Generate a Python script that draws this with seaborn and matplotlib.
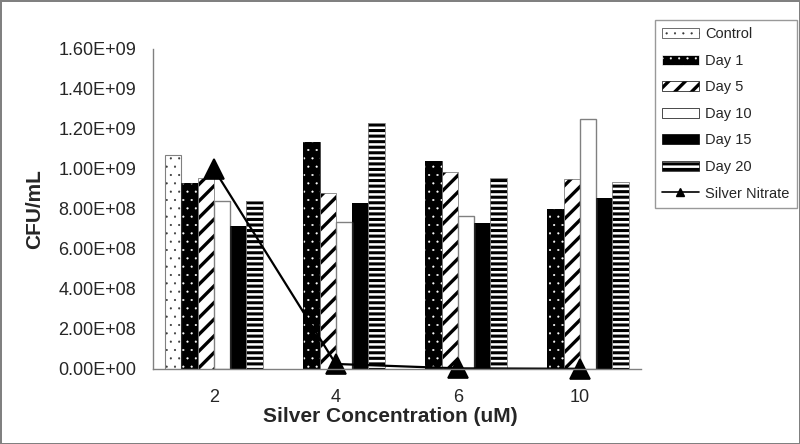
import matplotlib
matplotlib.use("Agg")
import matplotlib.pyplot as plt
import seaborn as sns
import pandas as pd
from matplotlib.patches import Patch
from matplotlib.lines import Line2D

# data
concentrations = ['2', '4', '6', '10']
series_names = ['Control', 'Day 1', 'Day 5', 'Day 10', 'Day 15', 'Day 20']
control = [1.07e9, 0, 0, 0]
day1 = [0.93e9, 1.135e9, 1.04e9, 0.80e9]
day5 = [0.955e9, 0.88e9, 0.985e9, 0.95e9]
day10 = [0.84e9, 0.735e9, 0.765e9, 1.25e9]
day15 = [0.715e9, 0.83e9, 0.73e9, 0.855e9]
day20 = [0.84e9, 1.23e9, 0.955e9, 0.935e9]
silver_nitrate = [1.0e9, 2.5e7, 3e6, 1e6]
y_ticks = [0, 2e8, 4e8, 6e8, 8e8, 1e9, 1.2e9, 1.4e9, 1.6e9]

sns.set_style('white')
plt.rcParams['font.family'] = ['Liberation Sans', 'DejaVu Sans']
plt.rcParams['hatch.linewidth'] = 2.4

rows = []
for name, vals in zip(series_names, [control, day1, day5, day10, day15, day20]):
    for c, v in zip(concentrations, vals):
        rows.append({'conc': c, 'series': name, 'cfu': v})
df = pd.DataFrame(rows)
df_line = pd.DataFrame({'conc': concentrations, 'silver': silver_nitrate})

fig = plt.figure(figsize=(8, 4.44), dpi=100)
fig.patch.set_edgecolor('#808080')
fig.patch.set_linewidth(2)
ax = fig.add_axes([0.191, 0.169, 0.61, 0.721])

sns.barplot(data=df, x='conc', y='cfu', hue='series', order=concentrations,
            hue_order=series_names, width=0.8, errorbar=None, legend=False, ax=ax)

# facecolor, hatch colour, hatch, hatch width, edge colour, edge width
styles = {
    'Control': ('white', '#333333', '..', 0.3, '#808080', 0.8),
    'Day 1': ('black', 'white', '..', 0.3, 'black', 0.5),
    'Day 5': ('white', 'black', '//', 2.4, '#808080', 0.6),
    'Day 10': ('white', 'black', '', 1.0, '#808080', 1.0),
    'Day 15': ('black', 'black', '', 1.0, 'black', 0.5),
    'Day 20': ('white', 'black', '---', 2.2, '#808080', 0.6),
}


def style_patch(p, name):
    fc, hc, h, hlw, ec, lw = styles[name]
    p.set_facecolor(fc)
    p.set_edgecolor(hc)  # sets the hatch colour
    p.set_hatch(h)
    if hasattr(p, 'set_hatch_linewidth'):
        p.set_hatch_linewidth(hlw)
    p.set_linewidth(0)


for cont, name in zip(ax.containers, series_names):
    for bar in cont:
        style_patch(bar, name)
        # thin outline drawn on top
        fc, hc, h, hlw, ec, lw = styles[name]
        if bar.get_height() > 0:
            ax.add_patch(plt.Rectangle(bar.get_xy(), bar.get_width(), bar.get_height(),
                                       fill=False, edgecolor=ec, linewidth=lw, zorder=bar.get_zorder()))

sns.pointplot(data=df_line, x='conc', y='silver', order=concentrations,
              color='black', markers='^', markersize=15, linewidth=1.6,
              errorbar=None, clip_on=False, ax=ax)

ax.set_ylim(0, 1.6e9)
ax.set_xlim(-0.5, 3.5)
ax.set_yticks(y_ticks)
ax.set_yticklabels([f'{v:.2E}' for v in y_ticks])
ax.tick_params(axis='both', length=0, labelsize=13)
ax.tick_params(axis='y', pad=12)
ax.tick_params(axis='x', pad=14.5)
for s in ['top', 'right']:
    ax.spines[s].set_visible(False)
for s in ['left', 'bottom']:
    ax.spines[s].set_color('#808080')
    ax.spines[s].set_linewidth(1)

ax.set_xlabel('Silver Concentration (uM)', fontsize=15, fontweight='bold', labelpad=0)
ax.xaxis.set_label_coords(0.487, -0.118)
ax.set_ylabel('CFU/mL', fontsize=15, fontweight='bold', labelpad=10)

handles = []
for name in series_names:
    p = Patch(label=name)
    style_patch(p, name)
    handles.append(p)
handles.append(Line2D([], [], color='black', marker='^', markersize=6,
                      linewidth=1.2, label='Silver Nitrate'))
leg = fig.legend(handles=handles, loc='upper right', bbox_to_anchor=(0.996, 0.955),
                 fontsize=10.5, frameon=True, fancybox=False, handlelength=2.5,
                 handleheight=0.7, labelspacing=0.86, borderpad=0.5,
                 handletextpad=0.45, borderaxespad=0)
leg.get_frame().set_edgecolor('#808080')
leg.get_frame().set_linewidth(1)
for h, name in zip(leg.get_patches(), series_names):
    style_patch(h, name)
    h.set_linewidth(0.5)
    h.set_edgecolor(styles[name][1])

plt.savefig('out.png', dpi=100, edgecolor=fig.get_edgecolor())
